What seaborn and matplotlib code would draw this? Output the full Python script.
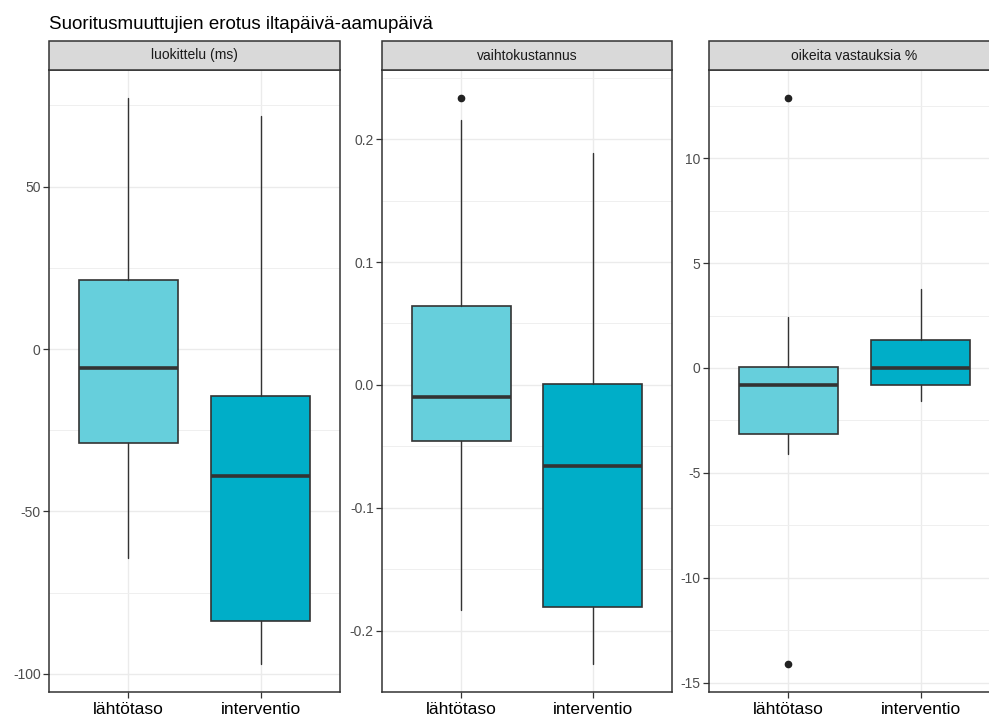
import numpy as np
import pandas as pd
import matplotlib
matplotlib.use("Agg")
import matplotlib.pyplot as plt
import seaborn as sns
from matplotlib.patches import Rectangle
from matplotlib.ticker import MultipleLocator, FormatStrFormatter

# Summary statistics of the afternoon-minus-morning differences
measures = ["luokittelu (ms)", "vaihtokustannus", "oikeita vastauksia %"]
groups = ["lähtötaso", "interventio"]

row_measure = [measures[0], measures[0], measures[1], measures[1], measures[2], measures[2]]
row_group = groups * 3
whislo = [-64.3, -96.9, -0.183, -0.227, -4.10, -1.57]
q1 = [-28.9, -83.7, -0.0455, -0.181, -3.16, -0.83]
med = [-5.8, -39.1, -0.0098, -0.0659, -0.80, 0.01]
q3 = [21.2, -14.5, 0.0642, 0.0008, 0.03, 1.33]
whishi = [77.2, 71.7, 0.216, 0.1886, 2.43, 3.76]
fliers = [[], [], [0.2333], [], [12.86, -14.1], []]

title = "Suoritusmuuttujien erotus iltapäivä-aamupäivä"

# y tick steps per panel
major_step = [50, 0.1, 5]
tick_fmt = ["%d", "%.1f", "%d"]

group_colors = {"lähtötaso": "#66CFDC", "interventio": "#00AEC8"}
edge = "#333333"

df = pd.DataFrame({
    "measure": row_measure, "group": row_group,
    "whislo": whislo, "q1": q1, "med": med, "q3": q3, "whishi": whishi,
    "fliers": fliers,
})

sns.set_theme(style="white")
plt.rcParams["font.family"] = ["Liberation Sans", "DejaVu Sans"]
plt.rcParams["axes.unicode_minus"] = False


def draw_boxes(data, **kws):
    ax = plt.gca()
    data = data.set_index("group").loc[groups]
    stats = []
    for grp, r in data.iterrows():
        stats.append(dict(med=r["med"], q1=r["q1"], q3=r["q3"],
                          whislo=r["whislo"], whishi=r["whishi"],
                          fliers=np.array(r["fliers"], dtype=float), label=grp))
    res = ax.bxp(stats, positions=[1, 2], widths=0.75, patch_artist=True,
                 showcaps=False, zorder=3,
                 boxprops=dict(edgecolor=edge, linewidth=1.2),
                 whiskerprops=dict(color=edge, linewidth=1.0),
                 medianprops=dict(color=edge, linewidth=2.6),
                 flierprops=dict(marker="o", markerfacecolor="#222222",
                                 markeredgecolor="#222222", markersize=4.5))
    for patch, grp in zip(res["boxes"], groups):
        patch.set_facecolor(group_colors[grp])
    # ggplot-style 5 % expansion of the data range
    lo = min(list(data["whislo"]) + [v for f in data["fliers"] for v in f])
    hi = max(list(data["whishi"]) + [v for f in data["fliers"] for v in f])
    pad = (hi - lo) * 0.05
    ax.set_ylim(lo - pad, hi + pad)


g = sns.FacetGrid(df, col="measure", col_order=measures, sharey=False,
                  sharex=False, height=6, aspect=0.5)
g.map_dataframe(draw_boxes)
g.set_titles("")
g.set_axis_labels("", "")

fig = g.figure
fig.set_size_inches(9.89, 7.21)
W, H = 989.0, 721.0
lefts = [49, 382, 709]
widths = [291, 290, 291]
top_px, bottom_px, strip_px = 70, 692, 29

for i, ax in enumerate(g.axes.flat):
    ax.set_position([lefts[i] / W, (H - bottom_px) / H, widths[i] / W,
                     (bottom_px - top_px) / H])
    ax.set_xlim(0.4, 2.6)
    ax.set_xticks([1, 2])
    ax.set_xticklabels(groups, fontsize=12.5, color="black")
    ax.yaxis.set_major_locator(MultipleLocator(major_step[i]))
    ax.yaxis.set_minor_locator(MultipleLocator(major_step[i] / 2))
    ax.yaxis.set_major_formatter(FormatStrFormatter(tick_fmt[i]))
    ax.tick_params(axis="y", which="major", labelsize=10, labelcolor="#4D4D4D",
                   left=True, length=4, width=0.9, color=edge, pad=2)
    ax.tick_params(axis="y", which="minor", left=False)
    ax.tick_params(axis="x", which="major", bottom=True, length=4,
                   width=0.9, color=edge, pad=3)
    ax.grid(True, which="major", color="#EBEBEB", linewidth=1.0, zorder=0)
    ax.grid(True, which="minor", axis="y", color="#EFEFEF", linewidth=0.7,
            zorder=0)
    ax.set_axisbelow(True)
    for s in ax.spines.values():
        s.set_visible(True)
        s.set_color(edge)
        s.set_linewidth(1.1)
    ax.set_facecolor("white")
    sh = strip_px / (bottom_px - top_px)
    ax.add_patch(Rectangle((0, 1), 1, sh, transform=ax.transAxes,
                           facecolor="#D9D9D9", edgecolor=edge,
                           linewidth=1.1, clip_on=False, zorder=5))
    ax.text(0.5, 1 + sh / 2, measures[i], transform=ax.transAxes,
            ha="center", va="center", fontsize=10, color="#1A1A1A", zorder=6)

fig.text(49 / W, (H - 29) / H, title, ha="left", va="baseline",
         fontsize=13.5, color="black")

fig.savefig("out.png", dpi=100, facecolor="white")
